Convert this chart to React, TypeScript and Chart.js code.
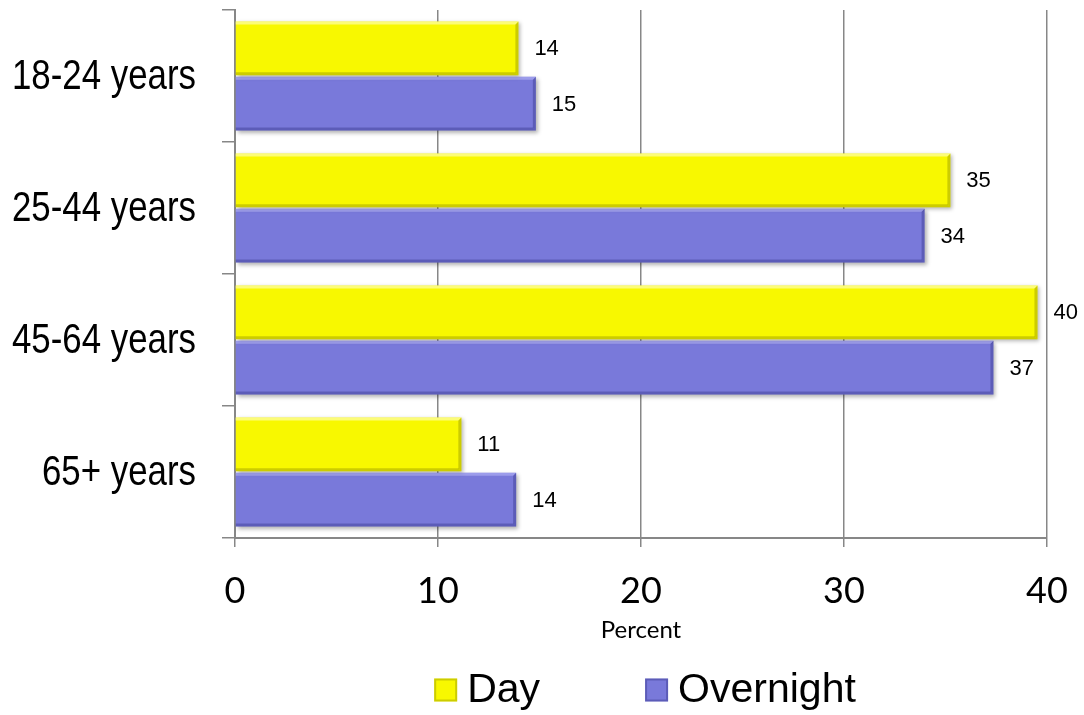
import React, { useEffect, useRef } from "react";
import { Chart, registerables } from "chart.js";

Chart.register(...registerables);

const categories = ["18-24 years", "25-44 years", "45-64 years", "65+ years"];
const dayValues = [13.96, 35.24, 39.53, 11.15];
const overnightValues = [14.82, 33.97, 37.36, 13.85];
const seriesNames = ["Day", "Overnight"];
const xTicks = [0, 10, 20, 30, 40];
const axisTitle = "Percent";

const GRID = "#878787";
const bevelDark = ["rgba(150,150,0,0.45)", "rgba(40,40,120,0.35)"];
const bevelLight = ["rgba(255,255,200,0.6)", "rgba(200,200,255,0.45)"];

const barDecor = {
  id: "barDecor",
  beforeDatasetsDraw(chart: any) {
    const ctx = chart.ctx;
    ctx.save();
    ctx.shadowColor = "rgba(0,0,0,0.3)";
    ctx.shadowBlur = 4;
    ctx.shadowOffsetX = 2;
    ctx.shadowOffsetY = 2;
  },
  afterDatasetsDraw(chart: any) {
    const ctx = chart.ctx;
    ctx.restore();
    // bevel edges on each bar element
    chart.data.datasets.forEach((ds: any, di: number) => {
      const meta = chart.getDatasetMeta(di);
      meta.data.forEach((bar: any) => {
        const x0 = bar.base, x1 = bar.x;
        const y0 = bar.y - bar.height / 2, y1 = bar.y + bar.height / 2;
        const b = 3;
        ctx.save();
        // right edge dark
        ctx.fillStyle = bevelDark[di];
        ctx.beginPath();
        ctx.moveTo(x1, y0); ctx.lineTo(x1, y1); ctx.lineTo(x1 - b, y1 - b); ctx.lineTo(x1 - b, y0 + b); ctx.closePath();
        ctx.fill();
        // bottom edge dark
        ctx.beginPath();
        ctx.moveTo(x0, y1); ctx.lineTo(x1, y1); ctx.lineTo(x1 - b, y1 - b); ctx.lineTo(x0, y1 - b); ctx.closePath();
        ctx.fill();
        // top edge light
        ctx.fillStyle = bevelLight[di];
        ctx.beginPath();
        ctx.moveTo(x0, y0); ctx.lineTo(x1, y0); ctx.lineTo(x1 - b, y0 + b); ctx.lineTo(x0, y0 + b); ctx.closePath();
        ctx.fill();
        ctx.restore();
      });
    });
    ctx.save();
    ctx.fillStyle = "#000";
    ctx.font = "22px 'Liberation Sans', Arial, sans-serif";
    ctx.textAlign = "left";
    ctx.textBaseline = "middle";
    chart.data.datasets.forEach((ds: any, di: number) => {
      const meta = chart.getDatasetMeta(di);
      meta.data.forEach((bar: any, i: number) => {
        ctx.fillText(String(Math.round(ds.data[i])), bar.x + 16, bar.y + 1);
      });
    });
    ctx.restore();
  },
  afterDraw(chart: any) {
    const ctx = chart.ctx;
    const area = chart.chartArea;
    const yScale = chart.scales.y;
    ctx.save();
    ctx.font = "42px 'Liberation Sans', Arial, sans-serif";
    ctx.textBaseline = "middle";
    ctx.textAlign = "right";
    ctx.fillStyle = "#000";
    (chart.data.labels as string[]).forEach((lab, i) => {
      const y = yScale.getPixelForValue(i);
      ctx.save();
      ctx.translate(196, y + 1);
      ctx.scale(0.83, 1);
      ctx.fillText(lab, 0, 0);
      ctx.restore();
    });
    ctx.restore();

    // legend
    ctx.save();
    ctx.font = "41px 'Liberation Sans', Arial, sans-serif";
    ctx.textBaseline = "middle";
    ctx.textAlign = "left";
    const box = 23;
    const gapText = 10;
    const gapItem = 105;
    const items = chart.data.datasets.map((ds: any, di: number) => ({
      label: ds.label,
      color: ds.backgroundColor,
      border: bevelDark[di],
      w: box + gapText + ctx.measureText(ds.label).width,
    }));
    const total = items.reduce((s: number, it: any) => s + it.w, 0) + gapItem * (items.length - 1);
    let x = (area.left + area.right) / 2 + 4 - total / 2;
    const cy = 690;
    items.forEach((it: any) => {
      ctx.fillStyle = it.color;
      ctx.fillRect(x, cy - box / 2, box, box);
      ctx.strokeStyle = it.border;
      ctx.lineWidth = 2;
      ctx.strokeRect(x + 1, cy - box / 2 + 1, box - 2, box - 2);
      ctx.fillStyle = "#000";
      ctx.fillText(it.label, x + box + gapText, cy + 1);
      x += it.w + gapItem;
    });
    ctx.restore();
  },
};

export default function App() {
  const ref = useRef<HTMLCanvasElement | null>(null);
  useEffect(() => {
    if (!ref.current) return;
    const chart = new Chart(ref.current, {
      type: "bar",
      data: {
        labels: categories,
        datasets: [
          {
            label: seriesNames[0],
            data: dayValues,
            backgroundColor: "#F8F800",
            borderWidth: 0,
            categoryPercentage: 0.84,
            barPercentage: 0.97,
          },
          {
            label: seriesNames[1],
            data: overnightValues,
            backgroundColor: "#7979DA",
            borderWidth: 0,
            categoryPercentage: 0.84,
            barPercentage: 0.97,
          },
        ],
      },
      options: {
        indexAxis: "y",
        animation: false,
        responsive: true,
        maintainAspectRatio: false,
        layout: { padding: { top: 10, right: 37, bottom: 70, left: 0 } },
        plugins: {
          legend: { display: false },
          tooltip: { enabled: false },
        },
        scales: {
          x: {
            min: 0,
            max: 40,
            afterBuildTicks: (scale: any) => {
              scale.ticks = xTicks.map((v) => ({ value: v }));
            },
            afterFit: (scale: any) => {
              scale.height = 107;
              scale.paddingLeft = 0;
              scale.paddingRight = 0;
            },
            grid: {
              color: GRID,
              lineWidth: 1.5,
              tickLength: 9,
              tickColor: GRID,
            },
            border: { display: true, color: GRID, width: 2 },
            ticks: {
              color: "#000",
              padding: 23,
              font: { family: "Lato, 'Open Sans', sans-serif", size: 36 },
            },
            title: {
              display: true,
              text: axisTitle,
              color: "#000",
              padding: 0,
              font: { family: "Lato, 'Open Sans', sans-serif", size: 24 },
            },
          },
          y: {
            afterFit: (scale: any) => {
              scale.width = 235;
              scale.paddingTop = 0;
              scale.paddingBottom = 0;
            },
            grid: {
              drawOnChartArea: false,
              offset: true,
              color: GRID,
              lineWidth: 1.5,
              tickLength: 13,
            },
            border: { display: true, color: GRID, width: 2 },
            ticks: { display: false },
          },
        },
      },
      plugins: [barDecor],
    });
    return () => chart.destroy();
  }, []);
  return (
    <div style={{ position: "absolute", left: 0, top: 0, width: 1084, height: 715, overflow: "hidden", background: "#fff" }}>
      <canvas ref={ref} />
    </div>
  );
}
